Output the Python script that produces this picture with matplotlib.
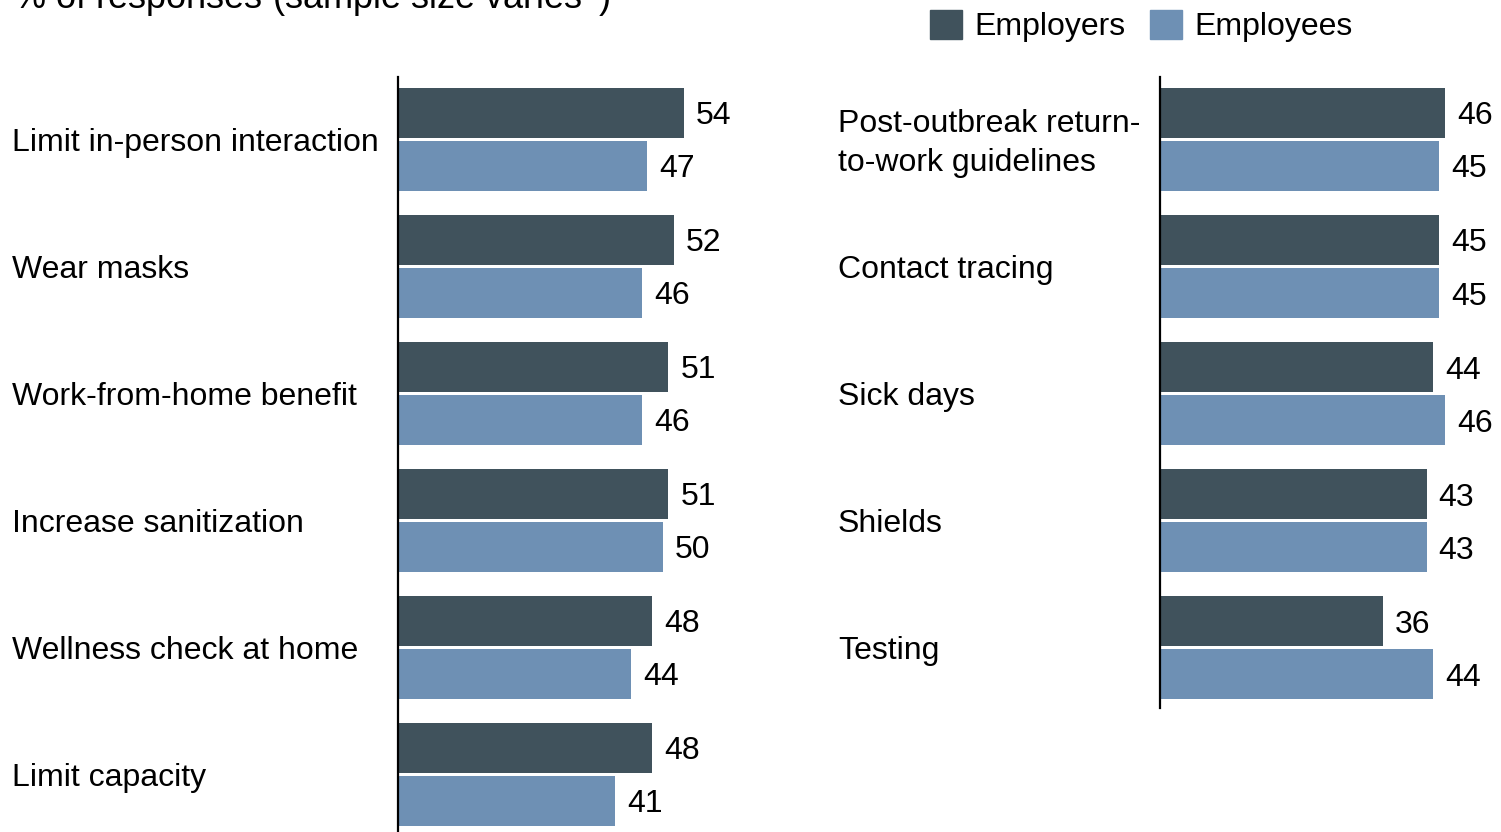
import matplotlib
matplotlib.use("Agg")
import matplotlib.pyplot as plt
from matplotlib.patches import Patch

plt.rcParams["font.family"] = ["Liberation Sans", "DejaVu Sans"]

left_cats = ["Limit in-person interaction", "Wear masks", "Work-from-home benefit",
             "Increase sanitization", "Wellness check at home", "Limit capacity"]
left_employers = [54, 52, 51, 51, 48, 48]
left_employees = [47, 46, 46, 50, 44, 41]

right_cats = ["Post-outbreak return-\nto-work guidelines", "Contact tracing", "Sick days",
              "Shields", "Testing"]
right_employers = [46, 45, 44, 43, 36]
right_employees = [45, 45, 46, 43, 44]

DARK = "#40525C"
LIGHT = "#6E90B4"
W, H = 1501, 832
FS = 23

fig = plt.figure(figsize=(W / 100, H / 100), dpi=100)


def px_axes(x0, y0, w, h):
    # axes placed from pixel box (top-left origin)
    return fig.add_axes([x0 / W, 1 - (y0 + h) / H, w / W, h / H])


def draw_panel(ax, cats, emp, ees, xmax, ybottom, label_x):
    n = len(cats)
    ys = list(range(n))
    off = 0.2087
    hgt = 0.394
    ax.barh([y - off for y in ys], emp, height=hgt, color=DARK)
    ax.barh([y + off for y in ys], ees, height=hgt, color=LIGHT)
    ax.set_xlim(0, xmax)
    ax.set_ylim(ybottom, -0.492)
    for s in ["top", "right", "bottom"]:
        ax.spines[s].set_visible(False)
    ax.spines["left"].set_linewidth(1.6)
    ax.set_xticks([])
    ax.set_yticks([])
    pad = 12 * xmax / ax.bbox.width
    for y, a, b in zip(ys, emp, ees):
        ax.text(a + pad, y - off, "%d" % a, va="center_baseline", ha="left", fontsize=FS)
        ax.text(b + pad, y + off, "%d" % b, va="center_baseline", ha="left", fontsize=FS)
    for y, c in zip(ys, cats):
        if "\n" in c:
            va, dy = "center", -4
        else:
            va, dy = "center_baseline", 0
        ax.annotate(c, xy=(label_x, y), xycoords=("figure pixels", "data"),
                    xytext=(0, dy), textcoords="offset pixels",
                    va=va, ha="left", fontsize=FS, linespacing=1.4)


axl = px_axes(398, 77, 318, 755)
draw_panel(axl, left_cats, left_employers, left_employees, 60, 5.453, 12)

axr = px_axes(1160, 77, 310, 631)
draw_panel(axr, right_cats, right_employers, right_employees, 50, 4.476, 838)

fig.text(13 / W, 1 - 9 / H, "% of responses (sample size varies$^{1}$)", fontsize=26,
         ha="left", va="baseline")

handles = [Patch(color=DARK, label="Employers"), Patch(color=LIGHT, label="Employees")]
fig.legend(handles=handles, loc="upper left", bbox_to_anchor=(901 / W, 1 + 19 / H), ncol=2,
           frameon=False, fontsize=FS, handlelength=1.0, handleheight=1.05,
           handletextpad=0.4, columnspacing=0.75)

fig.savefig("out.png", dpi=100)
